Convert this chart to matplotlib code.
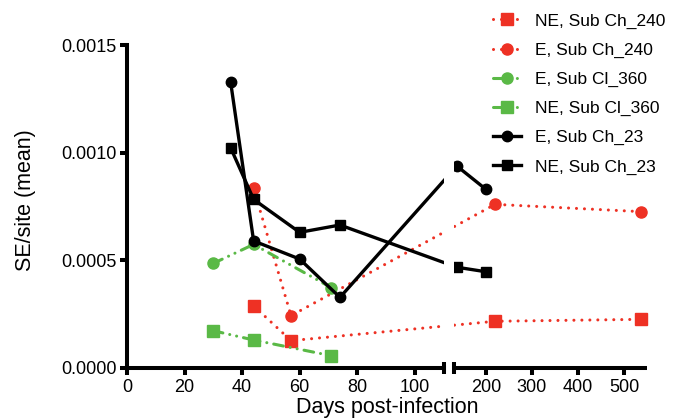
import numpy as np
import matplotlib
matplotlib.use('Agg')
import matplotlib.pyplot as plt
from matplotlib.ticker import FormatStrFormatter

plt.rcParams['font.family'] = ['Liberation Sans', 'DejaVu Sans']

# ── Data (SE/site mean by day post-infection) ────────────────────────────────
days_ch240 = [44, 57, 220, 538]
ne_ch240   = [0.000289, 0.000127, 0.000217, 0.000226]
e_ch240    = [0.000834, 0.000243, 0.000760, 0.000726]

days_cl360 = [30, 44, 71]
e_cl360    = [0.000486, 0.000574, 0.000373]
ne_cl360   = [0.000173, 0.000130, 0.000057]

days_ch23  = [36, 44, 60, 74, 137, 200]
e_ch23     = [0.001329, 0.000590, 0.000506, 0.000328, 0.000938, 0.000830]
ne_ch23    = [0.001023, 0.000783, 0.000630, 0.000664, 0.000468, 0.000447]

x_ticks = [0, 20, 40, 60, 80, 100, 200, 300, 400, 500]
y_ticks = [0.0, 0.0005, 0.0010, 0.0015]

# ── Broken x axis: 0-110 linear, then 130-550 squeezed ───────────────────────
LEFT_END    = 110
RIGHT_START = 130
RIGHT_END   = 550
GAP         = 3.5     # width of the break, in left-segment units
SQUEEZE     = 0.16    # right-segment scale relative to left

RED   = '#EE3124'
GREEN = '#5AB946'
BLACK = '#000000'
AXIS_LW = 2.9


def fwd(x):
    x = np.asarray(x, dtype=float)
    gap_part = LEFT_END + (x - LEFT_END) * GAP / (RIGHT_START - LEFT_END)
    right_part = LEFT_END + GAP + (x - RIGHT_START) * SQUEEZE
    return np.where(x <= LEFT_END, x, np.where(x >= RIGHT_START, right_part, gap_part))


def inv(u):
    u = np.asarray(u, dtype=float)
    gap_part = LEFT_END + (u - LEFT_END) * (RIGHT_START - LEFT_END) / GAP
    right_part = RIGHT_START + (u - LEFT_END - GAP) / SQUEEZE
    return np.where(u <= LEFT_END, u, np.where(u >= LEFT_END + GAP, right_part, gap_part))


fig = plt.figure(figsize=(6.82, 4.18), dpi=100)
ax = fig.add_axes([127 / 682, 50 / 418, 520 / 682, 323 / 418])
ax.set_xscale('function', functions=(fwd, inv))

dotted  = (0, (0.01, 2.6))
dashdot = (0, (3.2, 2.3, 0.01, 2.3, 0.01, 2.3))
common = dict(lw=2.2, clip_on=False, zorder=2)

ax.plot(days_ch240, ne_ch240, color=RED, ls=dotted, dash_capstyle='round',
        marker='s', ms=8, label='NE, Sub Ch_240', **common)
ax.plot(days_ch240, e_ch240, color=RED, ls=dotted, dash_capstyle='round',
        marker='o', ms=8, label='E, Sub Ch_240', **common)
ax.plot(days_cl360, e_cl360, color=GREEN, ls=dashdot, dash_capstyle='round',
        marker='o', ms=8, label='E, Sub Cl_360', **common)
ax.plot(days_cl360, ne_cl360, color=GREEN, ls=dashdot, dash_capstyle='round',
        marker='s', ms=8, label='NE, Sub Cl_360', **common)
ax.plot(days_ch23, e_ch23, color=BLACK, lw=2.4, marker='o', ms=7.5,
        label='E, Sub Ch_23', clip_on=False, zorder=2)
ax.plot(days_ch23, ne_ch23, color=BLACK, lw=2.4, marker='s', ms=7.5,
        label='NE, Sub Ch_23', clip_on=False, zorder=2)

# white strip hides the lines where they cross the break
ax.axvspan(LEFT_END, RIGHT_START, color='white', lw=0, zorder=2.5)

ax.set_xlim(0, RIGHT_END)
ax.set_ylim(0, 0.0015)

for side in ('top', 'right'):
    ax.spines[side].set_visible(False)
for side in ('left', 'bottom'):
    ax.spines[side].set_linewidth(AXIS_LW)
    ax.spines[side].set_zorder(3)
ax.spines['bottom'].set_bounds(0, LEFT_END)

# second piece of the x axis, with end caps at the break
xform = ax.get_xaxis_transform()
ax.plot([RIGHT_START, RIGHT_END], [0, 0], color=BLACK, lw=AXIS_LW,
        solid_capstyle='butt', transform=xform, clip_on=False, zorder=3)
ax.plot([LEFT_END, RIGHT_START], [0, 0], ls='none', marker='|', ms=8,
        mew=AXIS_LW, color=BLACK, transform=xform, clip_on=False, zorder=3.5)

ax.set_xticks(x_ticks)
ax.set_xticklabels([str(t) for t in x_ticks])
ax.set_yticks(y_ticks)
ax.yaxis.set_major_formatter(FormatStrFormatter('%.4f'))
ax.tick_params(axis='both', width=AXIS_LW, length=5, labelsize=13, direction='out')
ax.tick_params(axis='x', pad=3)
ax.tick_params(axis='y', pad=2.5)

ax.set_xlabel('Days post-infection', fontsize=15.5, labelpad=0.5)
ax.set_ylabel('SE/site (mean)', fontsize=15.5)
ax.yaxis.set_label_coords(-0.175, 0.52)

fig.legend(loc='upper left', bbox_to_anchor=(493 / 682, 0.968), frameon=False,
           fontsize=12.5, handlelength=1.6, handletextpad=0.8, labelspacing=0.8,
           borderpad=0, borderaxespad=0)

fig.savefig('out.png', dpi=100)
